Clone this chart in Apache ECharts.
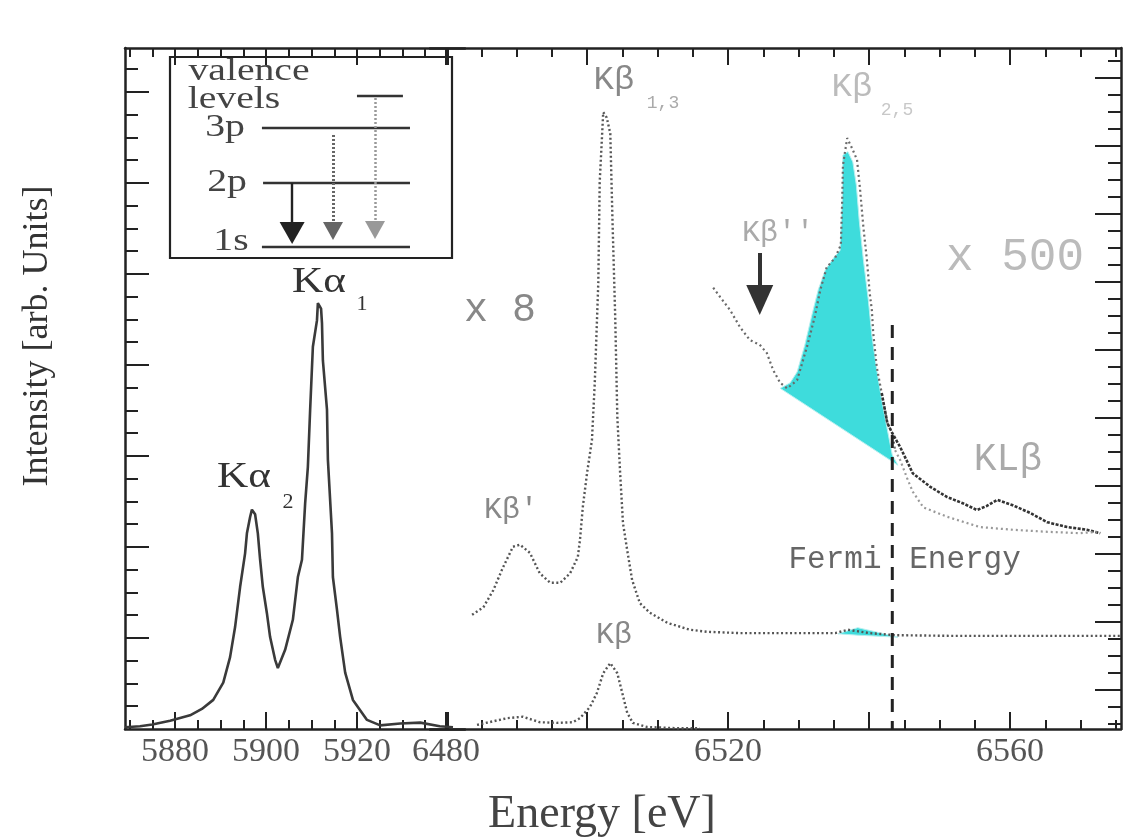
<!DOCTYPE html>
<html>
<head>
<meta charset="utf-8">
<title>Mn K emission spectra</title>
<script src="https://cdn.jsdelivr.net/npm/echarts@6/dist/echarts.min.js"></script>
<style>
html,body{margin:0;padding:0;background:#ffffff;}
#chart{width:1128px;height:837px;}
</style>
</head>
<body>
<div id="chart"></div>
<script>
// ---------------- data (energy in eV, intensity in arb. units) ----------------
const kAlpha = [
  [5869.0,0.02],[5872.3,0.03],[5875.0,0.05],[5878.9,0.09],[5883.3,0.15],[5885.9,0.22],
  [5888.4,0.32],[5890.6,0.51],[5892.1,0.79],[5893.2,1.12],[5894.3,1.56],[5895.4,1.93],
  [5895.8,2.15],[5896.5,2.33],[5896.9,2.41],[5897.6,2.36],[5898.2,2.15],[5898.7,1.86],
  [5899.3,1.56],[5900.2,1.27],[5900.9,1.01],[5902.0,0.76],[5902.6,0.67],[5904.2,0.87],
  [5905.9,1.20],[5907.0,1.67],[5907.9,1.86],[5908.6,2.48],[5909.2,2.88],[5909.7,3.51],
  [5910.3,4.20],[5911.2,4.49],[5911.4,4.68],[5912.1,4.62],[5912.3,4.46],[5912.5,4.05],
  [5913.4,3.51],[5913.6,2.96],[5914.5,2.15],[5914.7,1.67],[5915.6,1.31],[5916.3,1.01],
  [5917.4,0.62],[5919.1,0.32],[5922.2,0.10],[5925.1,0.04],[5929.5,0.06],[5933.9,0.07],
  [5938.2,0.03],[5941.1,0.02]
];
const kBetaX8 = [
  [6483.7,1.68],[6485.3,1.79],[6486.7,2.04],[6488.1,2.38],[6489.5,2.68],[6490.5,2.71],
  [6491.9,2.59],[6493.3,2.29],[6494.8,2.15],[6496.2,2.15],[6497.6,2.29],[6498.7,2.53],
  [6499.0,2.78],[6499.4,3.26],[6500.0,3.76],[6500.7,4.25],[6501.1,5.09],[6501.6,6.56],
  [6501.8,8.04],[6502.3,9.07],[6502.8,8.99],[6503.3,8.76],[6503.6,7.53],[6504.0,6.06],
  [6504.3,4.59],[6504.7,3.76],[6505.1,3.03],[6505.7,2.63],[6506.4,2.19],[6507.5,1.85],
  [6508.9,1.71],[6511.4,1.56],[6514.6,1.46],[6517.0,1.43],[6521.7,1.41],[6530.2,1.41],
  [6535.2,1.41],[6537.0,1.46],[6540.1,1.41],[6543.7,1.38],[6551.5,1.37],[6560.0,1.37],
  [6567.1,1.37],[6575.7,1.37]
];
const kBetaX1 = [
  [6484.4,0.06],[6488.7,0.16],[6490.9,0.18],[6493.3,0.10],[6495.7,0.09],[6498.0,0.10],
  [6499.0,0.16],[6500.4,0.32],[6501.4,0.53],[6502.3,0.82],[6503.3,0.97],[6504.3,0.82],
  [6505.0,0.53],[6505.7,0.24],[6506.5,0.09],[6508.5,0.03],[6513.2,0.01],[6516.0,0.01]
];
const kBetaX500 = [
  [6517.9,6.49],[6518.9,6.35],[6520.3,6.16],[6521.7,5.91],[6523.1,5.72],[6524.5,5.65],
  [6525.5,5.53],[6526.4,5.28],[6527.4,5.09],[6528.4,5.01],[6529.8,5.13],[6531.2,5.62],
  [6532.3,6.06],[6533.1,6.46],[6534.0,6.79],[6535.2,6.93],[6536.0,7.12],[6536.2,7.78],
  [6536.3,8.29],[6536.9,8.69],[6537.6,8.54],[6538.3,8.37],[6538.7,7.97],[6539.2,7.38],
  [6539.7,6.90],[6540.1,6.41],[6540.4,6.16],[6540.6,5.82],[6541.1,5.32],[6541.8,4.94],
  [6542.6,4.50],[6543.3,4.35],[6543.7,4.10]
];
const kBetaX500Upper = [
  [6541.8,4.94],[6542.6,4.50],[6543.3,4.35],[6544.4,4.15],[6545.8,3.85],[6546.2,3.76],
  [6548.7,3.56],[6551.1,3.41],[6553.3,3.32],[6555.3,3.22],[6556.7,3.28],[6558.2,3.37],
  [6560.4,3.29],[6562.8,3.18],[6565.3,3.04],[6568.1,2.97],[6570.9,2.93],[6572.8,2.88]
];
const kBetaX500Lower = [
  [6543.7,4.10],[6544.4,3.96],[6545.4,3.69],[6546.2,3.49],[6547.7,3.26],[6551.1,3.12],
  [6555.7,2.97],[6560.4,2.93],[6565.3,2.90],[6569.9,2.88],[6572.3,2.90]
];
// Kβ2,5 area above a linear background (x500 trace)
const kBeta25Fill = [
  [6527.4,5.01],[6528.8,5.09],[6529.8,5.25],[6530.9,5.65],[6531.9,6.09],[6532.8,6.46],
  [6533.8,6.75],[6535.0,6.93],[6535.9,7.04],[6536.2,7.78],[6536.3,8.44],[6537.0,8.49],
  [6537.7,8.34],[6538.2,8.00],[6538.6,7.49],[6539.2,6.90],[6539.9,6.31],[6540.4,5.79],
  [6541.1,5.28],[6541.8,4.84],[6542.6,4.40],[6543.3,4.03],[6544.1,3.88]
];
// same area on the x8 trace
const kBeta25FillX8 = [
  [6535.6,1.40],[6538.4,1.49],[6540.9,1.43],[6544.1,1.35],[6538.4,1.38]
];
const fermiEnergy = 6543.3;
const fermiLine = [[fermiEnergy, 5.94], [fermiEnergy, 0]];
const kBetaDoublePrimeArrow = [[6524.5, 7.0], [6524.5, 6.31]];

// ---------------- axis ticks / labels ----------------
const xMajorLeft  = [5880, 5900, 5920, 5940];
const xMinorLeft  = [5870, 5875, 5885, 5890, 5895, 5905, 5910, 5915, 5925, 5930, 5935];
const xLabelsLeft = [5880, 5900, 5920];
const xMajorRight = [6480, 6500, 6520, 6540, 6560];
const xMinorRight = [6485, 6490, 6495, 6505, 6510, 6515, 6525, 6530, 6535, 6545, 6550, 6555, 6565, 6570, 6575];
const xLabelsRight = [6480, 6520, 6560];
const yMajorLeft  = [1, 2, 3, 4, 5, 6, 7];
const yMajorRight = [0.574, 1.574, 2.574, 3.574, 4.574, 5.574, 6.574, 7.574, 8.574, 9.574];

// inset: energy level scheme (schematic units 0..100)
const levelValence = [[66.3, 80.6], [82.6, 80.6]];
const level3p = [[32.6, 64.7], [85.1, 64.7]];
const level2p = [[33.0, 37.3], [85.1, 37.3]];
const level1s = [[32.6, 5.5], [85.1, 5.5]];
const arrow2p1s = [[43.3, 37.3], [43.3, 12.4]];
const arrow3p1s = [[57.8, 61.2], [57.8, 13.4]];
const arrowVal1s = [[72.7, 79.6], [72.7, 13.9]];

// ---------------- layout helpers ----------------
const SERIF = '"Liberation Serif","Times New Roman",serif';
const MONO = '"Liberation Mono","Courier New",monospace';
const INK = '#222';
const CYAN = '#3edcdc';

const X_LEFT = { min: 5869.0, max: 5943.74 };
const X_RIGHT = { min: 6477.73, max: 6575.74 };
const Y_LEFT = { min: 0, max: 7.4835 };
const Y_RIGHT = { min: 0, max: 10.015 };

function minorsBetween(majors, step, lo, hi) {
  const out = [];
  const start = majors[0];
  for (let i = -200; i <= 200; i++) {
    const v = +(start + i * step).toFixed(4);
    if (v <= lo || v >= hi) continue;
    if (majors.some(m => Math.abs(m - v) < 1e-6)) continue;
    out.push(v);
  }
  return out;
}
const yMinorLeft = minorsBetween(yMajorLeft, 0.25, Y_LEFT.min, Y_LEFT.max);
const yMinorRight = minorsBetween(yMajorRight, 0.25, Y_RIGHT.min, Y_RIGHT.max);

function axisDef(grid, pos, range, ticks, len, labels, showLine) {
  return {
    type: 'value', gridIndex: grid, position: pos, min: range.min, max: range.max,
    axisLine: { show: showLine, onZero: false, lineStyle: { color: INK, width: 2.5 } },
    axisTick: { show: true, inside: true, length: len, customValues: ticks, lineStyle: { color: INK, width: 2 } },
    axisLabel: labels ? {
      show: true, customValues: labels, formatter: v => String(v), margin: 6,
      fontFamily: SERIF, fontSize: 34, color: '#555'
    } : { show: false },
    splitLine: { show: false }, minorTick: { show: false }, minorSplitLine: { show: false }
  };
}

const xAxes = [
  axisDef(0, 'bottom', X_LEFT, xMajorLeft, 17, xLabelsLeft, true),
  axisDef(0, 'bottom', X_LEFT, xMinorLeft, 9, null, false),
  axisDef(0, 'top', X_LEFT, xMajorLeft, 17, null, true),
  axisDef(0, 'top', X_LEFT, xMinorLeft, 9, null, false),
  axisDef(1, 'bottom', X_RIGHT, xMajorRight, 17, xLabelsRight, true),
  axisDef(1, 'bottom', X_RIGHT, xMinorRight, 9, null, false),
  axisDef(1, 'top', X_RIGHT, xMajorRight, 17, null, true),
  axisDef(1, 'top', X_RIGHT, xMinorRight, 9, null, false),
  { type: 'value', gridIndex: 2, min: 0, max: 100, show: false }
];
const yAxes = [
  axisDef(0, 'left', Y_LEFT, yMajorLeft, 24, null, true),
  axisDef(0, 'left', Y_LEFT, yMinorLeft, 13, null, false),
  axisDef(1, 'right', Y_RIGHT, yMajorRight, 26, null, true),
  axisDef(1, 'right', Y_RIGHT, yMinorRight, 13, null, false),
  { type: 'value', gridIndex: 2, min: 0, max: 100, show: false }
];

const lineBase = { type: 'line', symbol: 'none', showSymbol: false, silent: true, clip: false, animation: false };

function polygonSeries(points, xi, yi, fill) {
  return {
    type: 'custom', xAxisIndex: xi, yAxisIndex: yi, silent: true, z: 1, animation: false,
    data: points,
    renderItem: function (params, api) {
      if (params.dataIndex !== 0) return;
      return {
        type: 'polygon',
        shape: { points: points.map(p => api.coord(p)) },
        style: { fill: fill, stroke: '#b8f0f0', lineWidth: 1 }
      };
    }
  };
}

function arrowSeries(xi, yi, pts, color, width, dash, head, headColor) {
  return {
    type: 'line', xAxisIndex: xi, yAxisIndex: yi, data: [], silent: true, animation: false,
    markLine: {
      silent: true, animation: false, symbol: ['none', 'triangle'], symbolSize: head,
      label: { show: false },
      lineStyle: { color: color, width: width, type: dash },
      itemStyle: { color: headColor },
      emphasis: { disabled: true },
      data: [[{ coord: pts[0] }, { coord: pts[1], itemStyle: { color: headColor } }]]
    }
  };
}

function levelSeries(pts) {
  return { ...lineBase, xAxisIndex: 8, yAxisIndex: 4, data: pts, lineStyle: { color: '#333', width: 2.4 } };
}

function txt(x, y, text, font, fill, extra) {
  return Object.assign({
    type: 'text', x: x, y: y, silent: true,
    style: { text: text, font: font, fill: fill, textAlign: 'center', textVerticalAlign: 'middle', align: 'center', verticalAlign: 'middle' }
  }, extra || {});
}

const option = {
  backgroundColor: '#ffffff',
  animation: false,
  grid: [
    { left: 125, top: 48, width: 340, height: 681, show: false },
    { left: 430, top: 48, width: 691, height: 681, show: false },
    { left: 170, top: 57, width: 282, height: 201, show: true, borderColor: INK, borderWidth: 2.2, backgroundColor: 'rgba(255,255,255,0)' }
  ],
  xAxis: xAxes,
  yAxis: yAxes,
  series: [
    polygonSeries(kBeta25Fill, 4, 2, CYAN),
    polygonSeries(kBeta25FillX8, 4, 2, CYAN),
    { ...lineBase, name: 'Kα', xAxisIndex: 0, yAxisIndex: 0, data: kAlpha,
      lineStyle: { color: '#3a3a3a', width: 2.6 } },
    { ...lineBase, name: 'Kβ x8', xAxisIndex: 4, yAxisIndex: 2, data: kBetaX8,
      lineStyle: { color: '#555', width: 2.4, type: [2, 2.5] } },
    { ...lineBase, name: 'Kβ', xAxisIndex: 4, yAxisIndex: 2, data: kBetaX1,
      lineStyle: { color: '#555', width: 2.4, type: [2, 2.5] } },
    { ...lineBase, name: 'Kβ x500', xAxisIndex: 4, yAxisIndex: 2, data: kBetaX500,
      lineStyle: { color: '#6a6a6a', width: 2.2, type: [2, 3] } },
    { ...lineBase, name: 'Kβ x500 upper', xAxisIndex: 4, yAxisIndex: 2, data: kBetaX500Upper,
      lineStyle: { color: '#333', width: 2.6, type: [3, 1.5] } },
    { ...lineBase, name: 'Kβ x500 lower', xAxisIndex: 4, yAxisIndex: 2, data: kBetaX500Lower,
      lineStyle: { color: '#999', width: 2.2, type: [2, 3] } },
    { ...lineBase, name: 'Fermi Energy', xAxisIndex: 4, yAxisIndex: 2, data: fermiLine,
      lineStyle: { color: '#222', width: 3, type: [13, 9] } },
    arrowSeries(4, 2, kBetaDoublePrimeArrow, '#333', 4, 'solid', [27, 30], '#333'),
    levelSeries(levelValence),
    levelSeries(level3p),
    levelSeries(level2p),
    levelSeries(level1s),
    arrowSeries(8, 4, arrow2p1s, '#222', 2.4, 'solid', [25, 22], '#222'),
    arrowSeries(8, 4, arrow3p1s, '#666', 3, [2, 2], [20, 18], '#666'),
    arrowSeries(8, 4, arrowVal1s, '#999', 2.5, [2, 2], [20, 18], '#aaa')
  ],
  graphic: [
    txt(319, 283, 'Kα', '36px ' + SERIF, '#333', { scaleX: 1.2 }),
    txt(362, 304, '1', '22px ' + SERIF, '#333'),
    txt(244, 478, 'Kα', '36px ' + SERIF, '#333', { scaleX: 1.2 }),
    txt(288, 502, '2', '22px ' + SERIF, '#333'),
    txt(500, 310, 'x 8', '40px ' + MONO, '#888'),
    txt(614, 80, 'Kβ', '34px ' + MONO, '#888'),
    txt(663, 103, '1,3', '18px ' + MONO, '#aaa'),
    txt(852, 87, 'Kβ', '34px ' + MONO, '#bbb'),
    txt(897, 110, '2,5', '18px ' + MONO, '#c8c8c8'),
    txt(778, 233, "Kβ''", '30px ' + MONO, '#aaa'),
    txt(1015, 258, 'x 500', '46px ' + MONO, '#bbb'),
    txt(511, 510, "Kβ'", '30px ' + MONO, '#888'),
    txt(614, 635, 'Kβ', '30px ' + MONO, '#888'),
    txt(1008, 460, 'KLβ', '38px ' + MONO, '#aaa'),
    txt(835, 560, 'Fermi', '31px ' + MONO, '#666'),
    txt(965, 560, 'Energy', '31px ' + MONO, '#666'),
    txt(249, 72, 'valence', '31px ' + SERIF, '#444', { scaleX: 1.28 }),
    txt(234, 100, 'levels', '31px ' + SERIF, '#444', { scaleX: 1.28 }),
    txt(225, 128, '3p', '31px ' + SERIF, '#444', { scaleX: 1.28 }),
    txt(227, 183, '2p', '31px ' + SERIF, '#444', { scaleX: 1.28 }),
    txt(231, 242, '1s', '31px ' + SERIF, '#444', { scaleX: 1.28 }),
    txt(602, 815, 'Energy [eV]', '46px ' + SERIF, '#444'),
    txt(38, 336, 'Intensity [arb. Units]', '36px ' + SERIF, '#333', { rotation: Math.PI / 2 })
  ]
};

const chart = echarts.init(document.getElementById('chart'), null, { renderer: 'canvas' });
chart.setOption(option);
</script>
</body>
</html>
